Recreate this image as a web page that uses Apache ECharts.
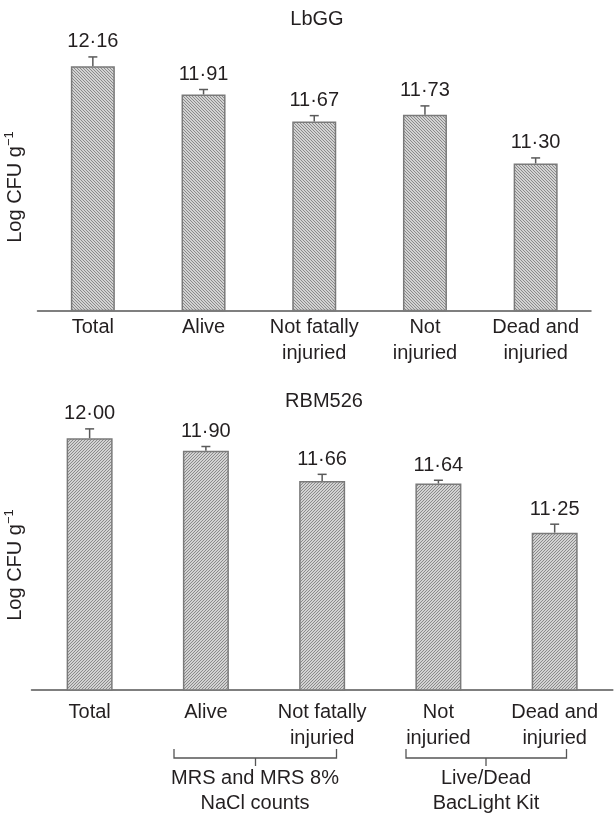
<!DOCTYPE html>
<html>
<head>
<meta charset="utf-8">
<title>Log CFU g-1 – LbGG and RBM526</title>
<script src="https://cdn.jsdelivr.net/npm/echarts@6/dist/echarts.min.js"></script>
<style>
  html, body { margin: 0; padding: 0; background: #ffffff; }
  #chart { width: 614px; height: 820px; }
</style>
</head>
<body>
<div id="chart"></div>
<script>
// Categories shared by both panels
const categories = ['Total', 'Alive', 'Not fatally\ninjuried', 'Not\ninjuried', 'Dead and\ninjuried'];

// LbGG panel (log CFU per gram) and the upper half of each error bar
const lbggValues = [12.16, 11.91, 11.67, 11.73, 11.30];
const lbggErrors = [0.082, 0.044, 0.053, 0.079, 0.049];

// RBM526 panel
const rbmValues = [12.00, 11.90, 11.66, 11.64, 11.25];
const rbmErrors = [0.074, 0.034, 0.053, 0.026, 0.067];

// Panel titles, axis name and group captions
const panelTitles = ['LbGG', 'RBM526'];
const groupCaptions = ['MRS and MRS 8%\nNaCl counts', 'Live/Dead\nBacLight Kit'];

const FONT = '"Liberation Sans", Arial, Helvetica, sans-serif';
const INK = '#231f20';

// Diagonal hatch fill for the bars; dir = 1 draws "\" stripes, -1 draws "/" stripes
function hatch(dir) {
  const c = document.createElement('canvas');
  c.width = 3; c.height = 3;
  const g = c.getContext('2d');
  g.fillStyle = '#d2d2d2';
  g.fillRect(0, 0, 3, 3);
  g.fillStyle = '#8a8a8a';
  for (let i = 0; i < 3; i++) {
    const x = dir > 0 ? i : 2 - i;
    g.fillRect(x, i, 1, 1);
  }
  return { image: c, repeat: 'repeat' };
}

const fmt = v => v.toFixed(2).replace('.', '\u00b7');

// One-sided error bar with a cap, plus the value label above it
function errorBar(params, api) {
  const i = api.value(0);
  const v = api.value(1);
  const e = api.value(2);
  const base = api.coord([i, v]);
  const top = api.coord([i, v + e]);
  const stroke = { stroke: '#5a5a5a', lineWidth: 1.5 };
  return {
    type: 'group',
    children: [
      { type: 'line', shape: { x1: base[0], y1: base[1], x2: top[0], y2: top[1] }, style: stroke },
      { type: 'line', shape: { x1: top[0] - 4.5, y1: top[1], x2: top[0] + 4.5, y2: top[1] }, style: stroke },
      {
        type: 'text', x: top[0], y: top[1] - 15,
        style: { text: fmt(v), align: 'center', verticalAlign: 'middle',
                 fontSize: 20, fontFamily: FONT, fill: INK }
      }
    ]
  };
}

const chart = echarts.init(document.getElementById('chart'), null, { renderer: 'canvas' });

const xAxisCommon = {
  type: 'category',
  data: categories,
  axisTick: { show: false },
  axisLine: { lineStyle: { color: '#555555', width: 1.5 } },
  axisLabel: { fontSize: 20, fontFamily: FONT, color: INK, lineHeight: 26, interval: 0 }
};

const yAxisCommon = { type: 'value', min: 10, max: 12.5, show: false };

const yName = (x, y) => ({
  type: 'text', x: x, y: y, rotation: Math.PI / 2,
  style: {
    text: '{m|Log CFU g}{s|\u22121}',
    align: 'center', verticalAlign: 'middle',
    rich: {
      m: { fontSize: 20, fontFamily: FONT, fill: INK, lineHeight: 24 },
      s: { fontSize: 13, fontFamily: FONT, fill: INK, verticalAlign: 'top', lineHeight: 13 }
    }
  }
});

const bracket = (x1, x2, cx) => ({
  type: 'polyline',
  shape: { points: [[x1, 749], [x1, 758], [x2, 758], [x2, 749]] },
  style: { stroke: '#555555', lineWidth: 1.3, fill: null }
});
const bracketTick = cx => ({
  type: 'line', shape: { x1: cx, y1: 758, x2: cx, y2: 766 },
  style: { stroke: '#555555', lineWidth: 1.3 }
});
const caption = (x, text) => ({
  type: 'text', x: x, y: 791,
  style: { text: text, align: 'center', verticalAlign: 'middle', fontSize: 20,
           fontFamily: FONT, fill: INK, lineHeight: 25 }
});

chart.setOption({
  animation: false,
  backgroundColor: '#ffffff',
  grid: [
    { left: 37.5, right: 23, top: 27.75, height: 282.75 },
    { left: 31.5, right: 1.2, top: 375.25, height: 314.75 }
  ],
  xAxis: [
    Object.assign({ gridIndex: 0 }, xAxisCommon,
      { axisLabel: Object.assign({}, xAxisCommon.axisLabel, { margin: 4 }) }),
    Object.assign({ gridIndex: 1 }, xAxisCommon,
      { axisLabel: Object.assign({}, xAxisCommon.axisLabel, { margin: 9 }) })
  ],
  yAxis: [
    Object.assign({ gridIndex: 0 }, yAxisCommon),
    Object.assign({ gridIndex: 1 }, yAxisCommon)
  ],
  series: [
    {
      type: 'bar', xAxisIndex: 0, yAxisIndex: 0, data: lbggValues, barWidth: 44,
      itemStyle: { color: hatch(1), borderColor: '#7a7a7a', borderWidth: 1.5 }
    },
    {
      type: 'custom', xAxisIndex: 0, yAxisIndex: 0, z: 5,
      encode: { x: 0, y: 1 },
      data: lbggValues.map((v, i) => [i, v, lbggErrors[i]]),
      renderItem: errorBar
    },
    {
      type: 'bar', xAxisIndex: 1, yAxisIndex: 1, data: rbmValues, barWidth: 46,
      itemStyle: { color: hatch(-1), borderColor: '#7a7a7a', borderWidth: 1.5 }
    },
    {
      type: 'custom', xAxisIndex: 1, yAxisIndex: 1, z: 5,
      encode: { x: 0, y: 1 },
      data: rbmValues.map((v, i) => [i, v, rbmErrors[i]]),
      renderItem: errorBar
    }
  ],
  graphic: [
    { type: 'text', x: 317, y: 19.5,
      style: { text: panelTitles[0], align: 'center', verticalAlign: 'middle',
               fontSize: 20, fontFamily: FONT, fill: INK } },
    { type: 'text', x: 324, y: 401,
      style: { text: panelTitles[1], align: 'center', verticalAlign: 'middle',
               fontSize: 20, fontFamily: FONT, fill: INK } },
    yName(15, 187),
    yName(15, 565),
    bracket(174, 336.5),
    bracketTick(255.5),
    bracket(406, 566.5),
    bracketTick(486),
    caption(255, groupCaptions[0]),
    caption(486, groupCaptions[1])
  ]
});
</script>
</body>
</html>
